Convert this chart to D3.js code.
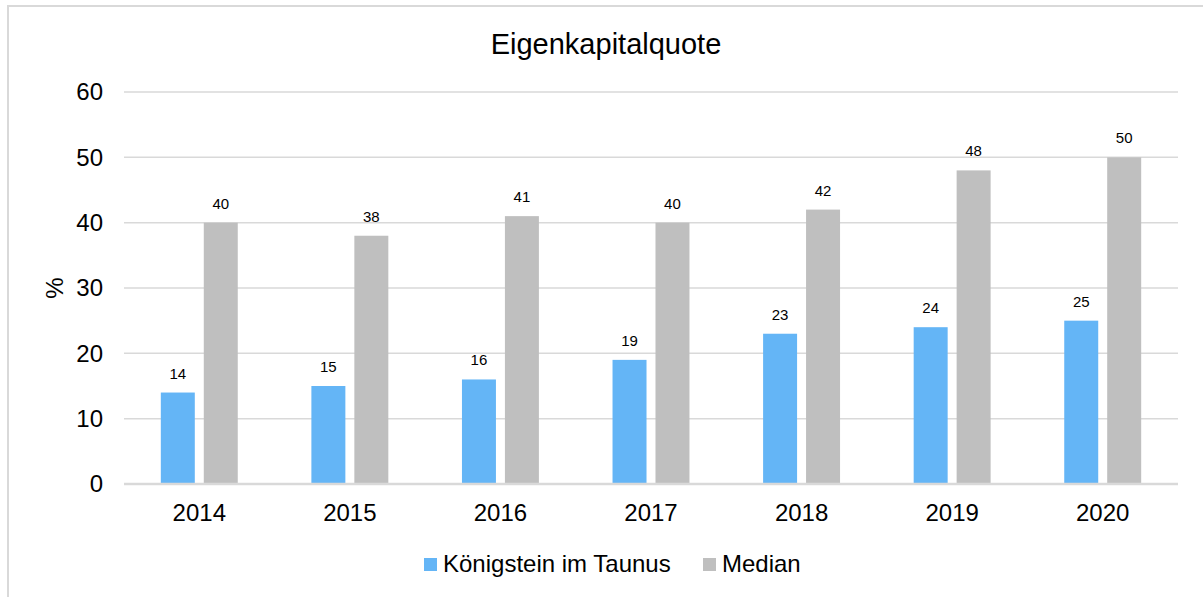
<!DOCTYPE html>
<html>
<head>
<meta charset="utf-8">
<script src="https://cdn.jsdelivr.net/npm/d3@7"></script>
<style>
  body { margin: 0; background: #fff; }
  text { font-family: "Liberation Sans", Arial, sans-serif; fill: #000; }
</style>
</head>
<body>
<div id="chart"></div>
<script>
// data
const years = ['2014', '2015', '2016', '2017', '2018', '2019', '2020'];
const seriesNames = ['Königstein im Taunus', 'Median'];
const koenigstein = [14, 15, 16, 19, 23, 24, 25];
const median = [40, 38, 41, 40, 42, 48, 50];
const yTicks = [0, 10, 20, 30, 40, 50, 60];
const colors = ['#64b5f6', '#bfbfbf'];

const width = 1203;
const height = 597;
const margin = { top: 92, right: 25, bottom: 113, left: 124 };

const rows = years.map((y, i) => ({ year: y, values: [koenigstein[i], median[i]] }));

const svg = d3
  .select('#chart')
  .append('svg')
  .attr('width', width)
  .attr('height', height);

// chart border (right / bottom edges fall outside the picture)
svg
  .append('rect')
  .attr('x', 8)
  .attr('y', 6)
  .attr('width', width + 20)
  .attr('height', height + 20)
  .attr('fill', 'none')
  .attr('stroke', '#d9d9d9')
  .attr('stroke-width', 2);

const x0 = d3
  .scaleBand()
  .domain(years)
  .range([margin.left, width - margin.right])
  .paddingInner(0.489)
  .paddingOuter(0.489 / 2);

const x1 = d3
  .scaleBand()
  .domain([0, 1])
  .range([0, x0.bandwidth()])
  .paddingInner(0.209);

const y = d3
  .scaleLinear()
  .domain([0, 60])
  .range([height - margin.bottom, margin.top]);

// gridlines
svg
  .append('g')
  .selectAll('line')
  .data(yTicks.filter((d) => d > 0))
  .join('line')
  .attr('x1', margin.left)
  .attr('x2', width - margin.right)
  .attr('y1', (d) => y(d))
  .attr('y2', (d) => y(d))
  .attr('stroke', '#d9d9d9')
  .attr('stroke-width', 1.5);

// y axis labels
const yAxis = svg
  .append('g')
  .attr('transform', `translate(${margin.left},0)`)
  .call(d3.axisLeft(y).tickValues(yTicks).tickSize(0).tickPadding(21));
yAxis.select('.domain').remove();
yAxis.selectAll('text').attr('font-size', 24).attr('font-family', 'Liberation Sans, Arial, sans-serif');

// bars
const groups = svg
  .append('g')
  .selectAll('g')
  .data(rows)
  .join('g')
  .attr('transform', (d) => `translate(${x0(d.year)},0)`);

groups
  .selectAll('rect')
  .data((d) => d.values.map((v, k) => ({ v, k })))
  .join('rect')
  .attr('x', (d) => x1(d.k))
  .attr('width', x1.bandwidth())
  .attr('y', (d) => y(d.v))
  .attr('height', (d) => y(0) - y(d.v))
  .attr('fill', (d) => colors[d.k]);

groups
  .selectAll('text')
  .data((d) => d.values.map((v, k) => ({ v, k })))
  .join('text')
  .attr('x', (d) => x1(d.k) + x1.bandwidth() / 2)
  .attr('y', (d) => y(d.v) - 14)
  .attr('text-anchor', 'middle')
  .attr('font-size', 15)
  .text((d) => d.v);

// x axis
const xAxis = svg
  .append('g')
  .attr('transform', `translate(0,${y(0)})`)
  .call(d3.axisBottom(x0).tickSize(0).tickPadding(20));
xAxis.select('.domain').remove();
xAxis.selectAll('text').attr('font-size', 24).attr('font-family', 'Liberation Sans, Arial, sans-serif');

svg
  .append('line')
  .attr('x1', margin.left)
  .attr('x2', width - margin.right)
  .attr('y1', y(0))
  .attr('y2', y(0))
  .attr('stroke', '#d9d9d9')
  .attr('stroke-width', 2.5);

// axis title
svg
  .append('text')
  .attr('transform', `translate(63,${(y(0) + y(60)) / 2}) rotate(-90)`)
  .attr('text-anchor', 'middle')
  .attr('font-size', 24)
  .text('%');

// chart title
svg
  .append('text')
  .attr('x', 606)
  .attr('y', 54)
  .attr('text-anchor', 'middle')
  .attr('font-size', 29)
  .text('Eigenkapitalquote');

// legend
const legend = svg.append('g').attr('transform', 'translate(424,572)');
const legendX = [0, 279];
seriesNames.forEach((name, k) => {
  const g = legend.append('g').attr('transform', `translate(${legendX[k]},0)`);
  g.append('rect')
    .attr('x', 0)
    .attr('y', -14)
    .attr('width', 13)
    .attr('height', 13)
    .attr('fill', colors[k]);
  g.append('text').attr('x', 19).attr('y', 0).attr('font-size', 24).text(name);
});
</script>
</body>
</html>
